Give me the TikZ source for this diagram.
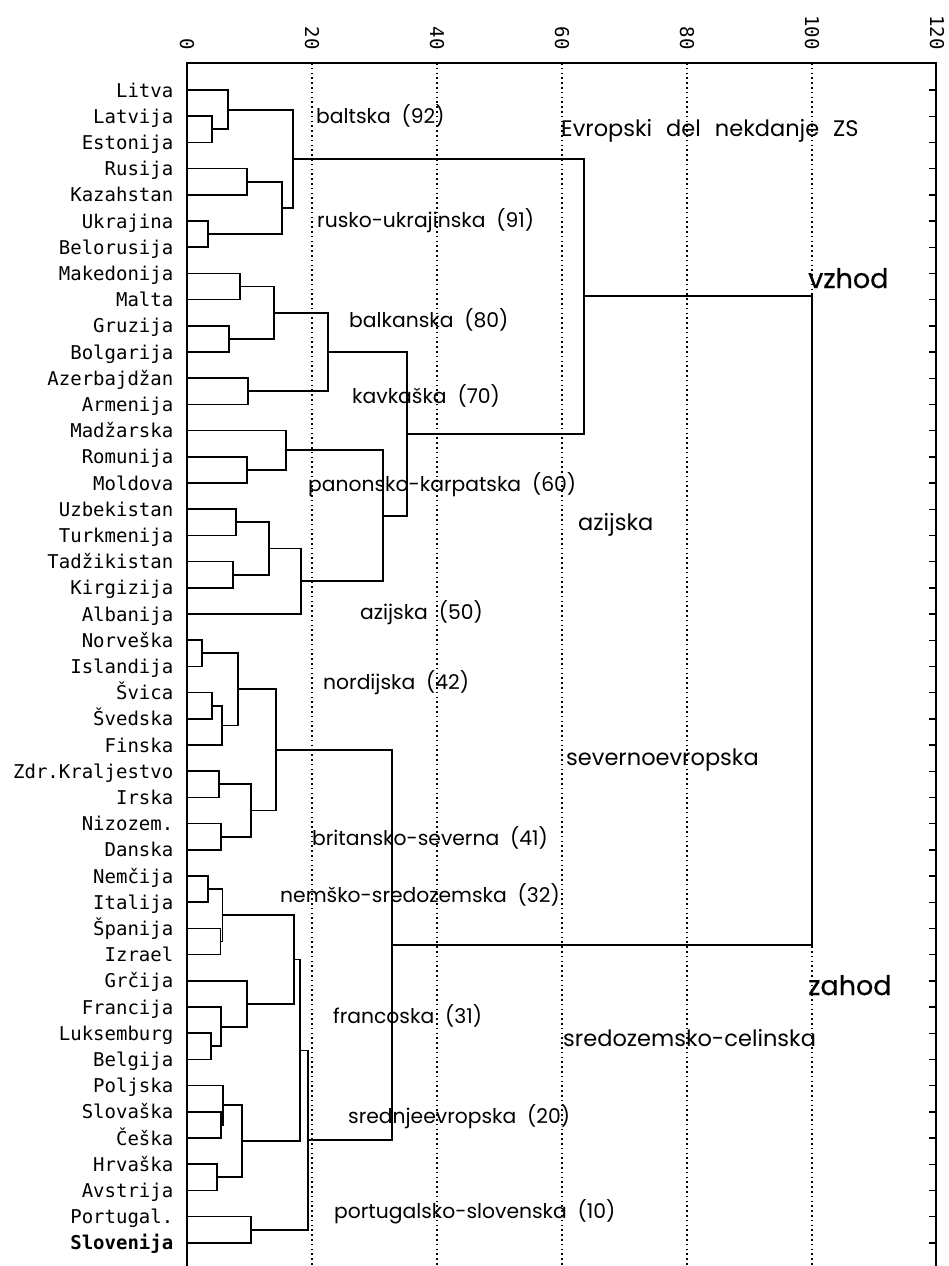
\documentclass[tikz,border=0pt]{standalone}
\usepackage{fontspec}
\newfontfamily\monof{DejaVu Sans Mono}
\newfontfamily\labf{Poppins}
\newfontfamily\bigf[FakeBold=0.5]{Poppins}
\usetikzlibrary{calc}
\tikzset{
  tree/.style={line width=1.7pt, black, line cap=rect},
  frame/.style={line width=1.9pt, black},
  grid/.style={line width=1.5pt, black, dash pattern=on 1.6pt off 3.2pt},
  country/.style={inner sep=0pt, font=\monof\fontsize{19}{20}\selectfont},
  ticklab/.style={inner sep=0pt, font=\monof\fontsize{19}{20}\selectfont},
  grp/.style={inner sep=0pt, anchor=base west, font=\labf\fontsize{20.3}{22}\selectfont},
  biggrp/.style={inner sep=0pt, anchor=base west, font=\labf\fontsize{22.5}{24}\selectfont},
  side/.style={inner sep=0pt, anchor=base west, font=\bigf\fontsize{27}{28}\selectfont}
}
\newcommand\mrg[4]{%
  \path let \p1=(#2), \p2=(#3) in coordinate (#1) at (#4pt, {0.5*(\y1+\y2)});
  \draw[tree] (#2) -- (#2 -| #1) -- (#3 -| #1) -- (#3);}
\begin{document}
\begin{tikzpicture}[x=1pt, y=-1pt]
\useasboundingbox (0,0) rectangle (948,1266);
% grid lines
\foreach \v in {20,40,60,80,100}
  \draw[grid] ({187+6.25*\v},63) -- ({187+6.25*\v},1266);
% frame
\draw[frame] (187,1266) -- (187,63) -- (936,63) -- (936,1266);
\foreach \i in {0,...,44}
  \draw[frame, line width=1.4pt] (936,{90+26.2*\i}) -- ++(-7,0);
% tick labels
\foreach \v in {0,20,40,60,80,100,120}
  \node[ticklab, rotate=-90, anchor=east] (t\v) at ({187+6.25*\v},50) {\v};
% leaves
\foreach \n [count=\i] in {Litva,Latvija,Estonija,Rusija,Kazahstan,Ukrajina,Belorusija,Makedonija,Malta,Gruzija,Bolgarija,Azerbajdžan,Armenija,Madžarska,Romunija,Moldova,Uzbekistan,Turkmenija,Tadžikistan,Kirgizija,Albanija,Norveška,Islandija,Švica,Švedska,Finska,Zdr.Kraljestvo,Irska,Nizozem.,Danska,Nemčija,Italija,Španija,Izrael,Grčija,Francija,Luksemburg,Belgija,Poljska,Slovaška,Češka,Hrvaška,Avstrija,Portugal.}{
  \pgfmathsetmacro\yy{90+26.2*(\i-1)}
  \coordinate (l\i) at (187,\yy);
  \node[country, anchor=base east] (c\i) at (173.5,\yy+7) {\n};
}
\coordinate (l45) at (187,1242.8);
\node[country, anchor=base east, font=\monof\bfseries\fontsize{19}{20}\selectfont] (c45) at (173.5,1249.8) {Slovenija};
% east
\mrg{m23}{l2}{l3}{212}
\mrg{m123}{l1}{m23}{228}
\mrg{m45}{l4}{l5}{247}
\mrg{m67}{l6}{l7}{208}
\mrg{m4567}{m45}{m67}{282}
\mrg{mBR}{m123}{m4567}{293}
\mrg{m89}{l8}{l9}{240}
\mrg{m1011}{l10}{l11}{229}
\mrg{mBalk}{m89}{m1011}{274}
\mrg{m1213}{l12}{l13}{248}
\mrg{mBK}{mBalk}{m1213}{328}
\mrg{m1516}{l15}{l16}{247}
\mrg{mPan}{l14}{m1516}{286}
\mrg{m1718}{l17}{l18}{236}
\mrg{m1920}{l19}{l20}{233}
\mrg{mUTTK}{m1718}{m1920}{269}
\mrg{mAz}{mUTTK}{l21}{301}
\mrg{mPA}{mPan}{mAz}{383}
\mrg{mBKPA}{mBK}{mPA}{407}
\mrg{mEast}{mBR}{mBKPA}{584}
% west
\mrg{m2223}{l22}{l23}{202}
\mrg{m2425}{l24}{l25}{212}
\mrg{m2426}{m2425}{l26}{222}
\mrg{mNord}{m2223}{m2426}{238}
\mrg{m2728}{l27}{l28}{219}
\mrg{m2930}{l29}{l30}{221}
\mrg{mBrit}{m2728}{m2930}{251}
\mrg{mNB}{mNord}{mBrit}{276}
\mrg{m3132}{l31}{l32}{208}
\mrg{m3334}{l33}{l34}{220.5}
\mrg{m3134}{m3132}{m3334}{222.5}
\mrg{m3738}{l37}{l38}{211}
\mrg{m3638}{l36}{m3738}{221}
\mrg{m3538}{l35}{m3638}{247}
\mrg{mFN}{m3134}{m3538}{294}
\mrg{m4041}{l40}{l41}{221}
\mrg{m3941}{l39}{m4041}{223}
\mrg{m4243}{l42}{l43}{217}
\mrg{mCE}{m3941}{m4243}{242}
\mrg{mFNCE}{mFN}{mCE}{300}
\mrg{m4445}{l44}{l45}{251}
\mrg{mSouth}{mFNCE}{m4445}{308}
\mrg{mWest}{mNB}{mSouth}{392}
\mrg{mTop}{mEast}{mWest}{812}
% group labels
\node[grp] (g92) at (316,123) {baltska\ \ (92)};
\node[grp] (g91) at (317,227) {rusko-ukrajinska\ \ (91)};
\node[grp] (g80) at (349,327) {balkanska\ \ (80)};
\node[grp] (g70) at (352,403) {kavkaška\ \ (70)};
\node[grp] (g60) at (308,491) {panonsko-karpatska\ \ (60)};
\node[grp] (g50) at (360,619) {azijska\ \ (50)};
\node[grp] (g42) at (323,689) {nordijska\ \ (42)};
\node[grp] (g41) at (312,845) {britansko-severna\ \ (41)};
\node[grp] (g32) at (280,902) {nemško-sredozemska\ \ (32)};
\node[grp] (g31) at (333,1023) {francoska\ \ (31)};
\node[grp] (g20) at (348,1123) {srednjeevropska\ \ (20)};
\node[grp] (g10) at (334,1218) {portugalsko-slovenska\ \ (10)};
\node[biggrp] (gEvr) at (561,136) {Evropski\hspace{14pt}del\hspace{14pt}nekdanje\hspace{14pt}ZS};
\node[biggrp] (gAz) at (578,530) {azijska};
\node[biggrp] (gSev) at (566,765) {severnoevropska};
\node[biggrp] (gSre) at (563,1046) {sredozemsko-celinska};
\node[side] (gV) at (808,288) {vzhod};
\node[side] (gZ) at (808,995) {zahod};
\end{tikzpicture}
\end{document}
